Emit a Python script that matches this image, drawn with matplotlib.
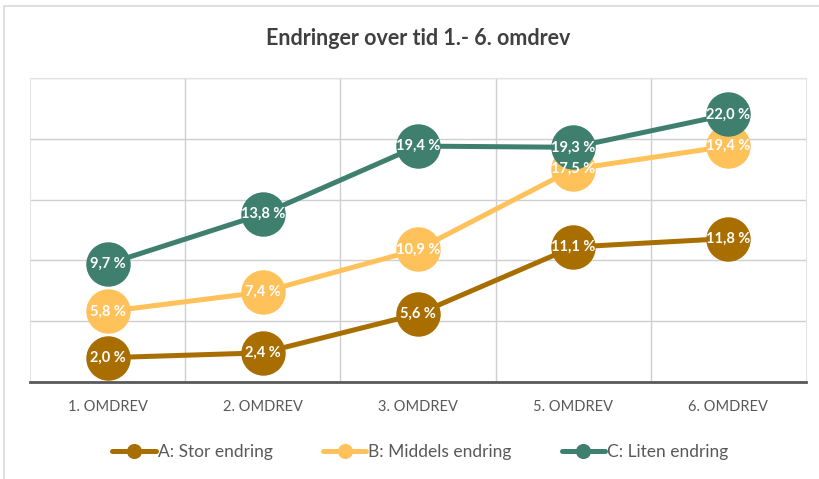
# -*- coding: utf-8 -*-

# Endringer over tid - line chart with big round markers
import matplotlib.pyplot as plt

# Data
kategorier = ["1. OMDREV", "2. OMDREV", "3. OMDREV", "5. OMDREV", "6. OMDREV"]
serie_navn = ["A: Stor endring", "B: Middels endring", "C: Liten endring"]
stor = [2.0, 2.4, 5.6, 11.1, 11.8]
middels = [5.8, 7.4, 10.9, 17.5, 19.4]
liten = [9.7, 13.8, 19.4, 19.3, 22.0]
farger = ["#A86E00", "#FFC15A", "#3F7F6E"]

plt.rcParams['font.family'] = ['Lato', 'DejaVu Sans']

fig = plt.figure(figsize=(8.19, 4.79), dpi=100)
# outer chart border
fig.patches.append(plt.Rectangle((0.005, -0.01), 1.2, 0.998, transform=fig.transFigure,
                                 fill=False, edgecolor="#d9d9d9", linewidth=1.2))
ax = fig.add_axes([0.0366, 0.2025, 0.9475, 0.6347])

x = list(range(len(kategorier)))
for i, (verdier, navn) in enumerate(zip([stor, middels, liten], serie_navn)):
    ax.plot(x, verdier, color=farger[i], linewidth=3.6, marker="o", markersize=32,
            markeredgewidth=0, label=navn, zorder=3 + i, solid_capstyle="round")
    for xi, v in zip(x, verdier):
        ax.text(xi, v, f"{v:.1f} %".replace(".", ","), ha="center", va="center",
                color="white", fontsize=10.5, fontweight="bold", zorder=10)

ax.set_xlim(-0.5, len(kategorier) - 0.5)
ax.set_ylim(0, 25)
ax.set_yticks([0, 5, 10, 15, 20, 25])
ax.set_yticklabels([])
ax.tick_params(axis="y", length=0)
ax.set_xticks(x)
ax.set_xticklabels(kategorier, fontsize=10.5, color="#595959")
ax.tick_params(axis="x", length=0, pad=13)

# grid between categories
for b in [0.5, 1.5, 2.5, 3.5]:
    ax.axvline(b, color="#cfcfcf", linewidth=1, zorder=1)
ax.grid(axis="y", color="#cfcfcf", linewidth=1, zorder=1)
for s in ["top", "right", "left"]:
    ax.spines[s].set_color("#e3e3e3")
ax.spines["bottom"].set_color("#595959")
ax.spines["bottom"].set_linewidth(2)

ax.set_title("Endringer over tid 1.- 6. omdrev", fontsize=15.5, fontweight="bold",
             color="#404040", pad=24)

leg = ax.legend(loc="upper center", bbox_to_anchor=(0.503, -0.152), ncol=3, frameon=False,
                fontsize=12.5, handlelength=2.5, handletextpad=0.1, columnspacing=2.9,
                markerscale=0.34)
for t in leg.get_texts():
    t.set_color("#595959")

plt.savefig("out.png", dpi=100)
